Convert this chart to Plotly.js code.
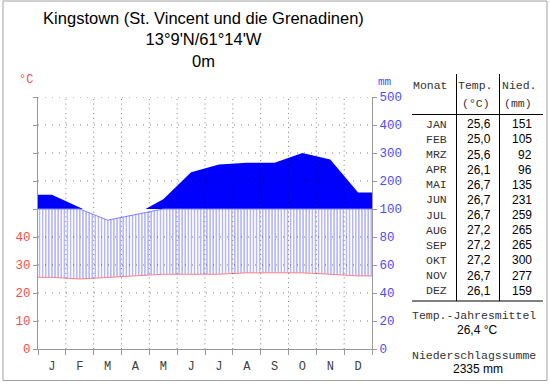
<!DOCTYPE html>
<html>
<head>
<meta charset="utf-8">
<script src="https://cdn.plot.ly/plotly-3.0.1.min.js"></script>
<style>html,body{margin:0;padding:0;background:#fff;}#chart{width:550px;height:384px;}</style>
</head>
<body>
<div id="chart"></div>
<script>
// ---- data ----
const monthLetters = ['J','F','M','A','M','J','J','A','S','O','N','D'];
const monthAbbr = ['JAN','FEB','MRZ','APR','MAI','JUN','JUL','AUG','SEP','OKT','NOV','DEZ'];
const temps = [25.6,25.0,25.6,26.1,26.7,26.7,26.7,27.2,27.2,27.2,26.7,26.1];
const precip = [151,105,92,96,135,231,259,265,265,300,277,159];
const tempTickText = ['0','10','20','30','40','','','','',''];
const precipTickText = ['0','20','40','60','80','100','200','300','400','500'];
const titleLines = ['Kingstown (St. Vincent und die Grenadinen)', '13°9\'N/61°14\'W', '0m'];
const meanTempText = '26,4 °C';
const totalPrecipText = '2335 mm';

// ---- derived (scales of the Walter-Lieth diagram) ----
const scaleP = p => p <= 100 ? p : 100 + (p - 100) / 5;   // above 100 mm compressed
const scaleT = t => 2 * t;                                 // 10 °C = 20 mm
const ext = a => [a[0], ...a, a[a.length - 1]];
const xs = [0, ...monthLetters.map((_, i) => i + 0.5), monthLetters.length];
const tD = ext(temps).map(scaleT);
const pD = ext(precip).map(scaleP);
const pLow = pD.map(v => Math.min(v, 100));
const base100 = pD.map(() => 100);
const levels = precipTickText.map((_, i) => i * 20);
const fmt = v => v.toFixed(1).replace('.', ',');

// ---- geometry ----
const W = 550, H = 384, L = 38, R = 178, T = 97, B = 35;
const pw = W - L - R, ph = H - T - B;
const px = x => (x - L) / pw;
const py = y => (H - B - y) / ph;

const mono = 'Liberation Mono, Courier New, monospace';
const sans = 'Liberation Sans, Arial, sans-serif';
const grey = '#999999';
const red = '#ff4d4d';
const blue = '#4d4dff';

const traces = [
  // solid humid area (> 100 mm): blue under precipitation curve, lower part masked white
  {x: xs, y: pD, yaxis: 'y', mode: 'lines', fill: 'tozeroy', fillcolor: '#0000ff',
   line: {width: 0, color: 'rgba(0,0,0,0)'}, hoverinfo: 'skip', name: 'Niederschlag > 100 mm'},
  {x: xs, y: base100, yaxis: 'y', mode: 'lines', fill: 'tozeroy', fillcolor: '#ffffff',
   line: {width: 0, color: 'rgba(0,0,0,0)'}, hoverinfo: 'skip', showlegend: false},
  // temperature and humid hatching
  {x: xs, y: tD, yaxis: 'y2', mode: 'lines', line: {color: '#ff8080', width: 1}, name: 'Temperatur', hoverinfo: 'skip'},
  {x: xs, y: pLow, yaxis: 'y2', mode: 'lines', fill: 'tonexty', fillcolor: 'rgba(0,0,0,0)',
   fillpattern: {shape: '|', size: 3.1, solidity: 0.32, fgcolor: '#8c8cff', bgcolor: 'rgba(255,255,255,0)'},
   line: {color: '#8080ff', width: 1}, name: 'Niederschlag', hoverinfo: 'skip'}
];

const shapes = [];
// dotted grid above traces
levels.slice(1).filter(v => v !== 100).forEach(v => shapes.push({type: 'line', xref: 'x', yref: 'y', x0: 0, x1: 12, y0: v, y1: v,
  layer: 'above', line: {color: 'rgba(0,0,0,0.5)', width: 1, dash: '1px,6px'}}));
for (let k = 1; k < monthLetters.length; k++) shapes.push({type: 'line', xref: 'x', yref: 'y', x0: k, x1: k, y0: 0, y1: 180,
  layer: 'above', line: {color: 'rgba(0,0,0,0.5)', width: 1, dash: '1px,3.7px'}});
// table lines
const tl = (x0, y0, x1, y1, c) => shapes.push({type: 'line', xref: 'paper', yref: 'paper',
  x0: px(x0), x1: px(x1), y0: py(y0), y1: py(y1), line: {color: c || '#000', width: 1}});
tl(456.5, 74, 456.5, 301);
tl(499.5, 74, 499.5, 301);
tl(412, 114.5, 543, 114.5);
tl(412, 301, 543, 301);
// frame
shapes.push({type: 'rect', xref: 'paper', yref: 'paper', x0: px(3), x1: px(547), y0: py(380.5), y1: py(1),
  line: {color: '#a0a0a0', width: 1}});

const ann = [];
const A = (text, x, y, font, xanchor) => ann.push({text, xref: 'paper', yref: 'paper', x: px(x), y: py(y),
  xanchor: xanchor || 'center', yanchor: 'middle', showarrow: false, font});
const fMono = {family: mono, size: 11.5, color: '#333'};
const fNum = {family: sans, size: 12, color: '#000'};
A('°C', 25.5, 80, {family: mono, size: 12, color: red});
A('mm', 385, 81.5, {family: mono, size: 11, color: blue});
A('Monat', 430, 86, fMono);
A('Temp.', 475, 86, fMono);
A('(°C)', 476, 103.3, fMono);
A('Nied.', 519, 86, fMono);
A('(mm)', 518, 103.3, fMono);
monthAbbr.forEach((m, i) => {
  const y = 124.3 + i * 15.13;
  A(m, 436, y, fMono);
  A(fmt(temps[i]), 492.5, y, fNum, 'right');
  A(String(precip[i]), 534, y, fNum, 'right');
});
A('Temp.-Jahresmittel', 474, 315, fMono);
A(meanTempText, 477, 330, fNum);
A('Niederschlagssumme', 474, 355.7, fMono);
A(totalPrecipText, 478, 369.3, fNum);

const layout = {
  width: W, height: H,
  margin: {l: L, r: R, t: T, b: B, pad: 0},
  paper_bgcolor: '#ffffff', plot_bgcolor: '#ffffff',
  showlegend: false,
  title: {text: titleLines.join('<br>'), font: {family: sans, size: 16.5, color: '#000'},
          x: 272.5 / W, xanchor: 'center', xref: 'paper', yref: 'container', y: 1 - 24 / H, yanchor: 'top'},
  xaxis: {range: [0, 12], fixedrange: true, showgrid: false, zeroline: false,
          showline: true, linecolor: grey, linewidth: 1,
          tickvals: monthLetters.map((_, i) => i + 0.5), ticktext: monthLetters, ticks: '',
          ticklabelstandoff: 6,
          tickfont: {family: mono, size: 12, color: '#404040'},
          minor: {tickvals: Array.from({length: monthLetters.length + 1}, (_, k) => k),
                  ticks: 'outside', ticklen: 5, tickcolor: grey, showgrid: false}},
  yaxis: {range: [0, 180], fixedrange: true, showgrid: false, zeroline: false,
          showline: true, linecolor: grey, linewidth: 1,
          tickvals: levels, ticktext: tempTickText, ticks: 'outside', ticklen: 4, tickcolor: grey,
          tickfont: {family: mono, size: 12.5, color: red}},
  yaxis2: {range: [0, 180], overlaying: 'y', side: 'right', fixedrange: true, showgrid: false, zeroline: false,
          showline: true, linecolor: grey, linewidth: 1,
          tickvals: levels, ticktext: precipTickText, ticks: 'outside', ticklen: 4, tickcolor: grey,
          tickfont: {family: mono, size: 12.5, color: blue}},
  shapes: shapes,
  annotations: ann
};

Plotly.newPlot('chart', traces, layout, {displayModeBar: false, staticPlot: true});
</script>
</body>
</html>
